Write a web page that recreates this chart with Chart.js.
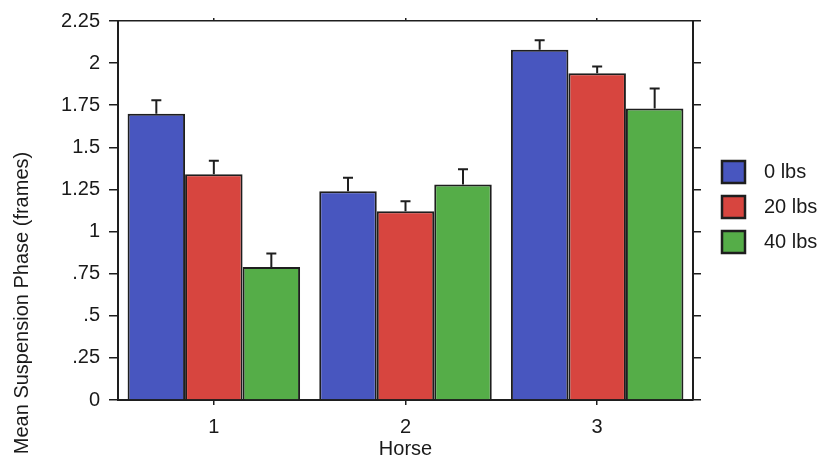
<!DOCTYPE html>
<html><head><meta charset="utf-8">
<script src="https://cdn.jsdelivr.net/npm/chart.js@4/dist/chart.umd.min.js"></script>
<style>html,body{margin:0;padding:0;background:#fff}#wrap{width:822px;height:461px}</style>
</head><body><div id="wrap"><canvas id="c" width="822" height="461"></canvas></div>
<script>
const categories = ['1', '2', '3'];
const seriesLabels = ['0 lbs', '20 lbs', '40 lbs'];
const values0 = [1.70, 1.24, 2.08];
const values20 = [1.34, 1.12, 1.94];
const values40 = [0.79, 1.28, 1.73];
const err0 = [0.08, 0.08, 0.055];
const err20 = [0.08, 0.06, 0.04];
const err40 = [0.08, 0.09, 0.12];
const yTickLabels = ['0', '.25', '.5', '.75', '1', '1.25', '1.5', '1.75', '2', '2.25'];
const xTitle = 'Horse';
const yTitle = 'Mean Suspension Phase (frames)';

const FONT = "'Liberation Sans', Arial, Helvetica, sans-serif";
const TXT = '#1a1a1a';
const LINE = '#1e1e1e';
const colors = ['#4856bf', '#d7453f', '#55ad48'];

const errorBars = {
  id: 'errorBars',
  afterDatasetsDraw(chart) {
    const ctx = chart.ctx, ys = chart.scales.y;
    chart.data.datasets.forEach((ds, di) => {
      const meta = chart.getDatasetMeta(di);
      meta.data.forEach((bar, i) => {
        const top = ys.getPixelForValue(ds.data[i]);
        const e = ys.getPixelForValue(ds.data[i] + ds.errors[i]);
        ctx.save();
        ctx.strokeStyle = LINE; ctx.lineWidth = 2;
        ctx.beginPath();
        ctx.moveTo(bar.x, top); ctx.lineTo(bar.x, e);
        ctx.moveTo(bar.x - 5, e); ctx.lineTo(bar.x + 5, e);
        ctx.stroke();
        ctx.restore();
      });
    });
  }
};

const extras = {
  id: 'extras',
  afterDraw(chart) {
    const ctx = chart.ctx;
    ctx.save();
    // y title
    ctx.translate(22, 303);
    ctx.rotate(-Math.PI / 2);
    ctx.font = '20px ' + FONT;
    ctx.fillStyle = TXT;
    ctx.textAlign = 'center';
    ctx.textBaseline = 'middle';
    ctx.fillText(yTitle, 0, 0);
    ctx.restore();
    // legend
    ctx.save();
    const centers = [172, 207, 242];
    chart.data.datasets.forEach((ds, i) => {
      const cy = centers[i];
      ctx.fillStyle = ds.backgroundColor;
      ctx.fillRect(722, cy - 11, 23, 22);
      ctx.strokeStyle = LINE; ctx.lineWidth = 2.5;
      ctx.strokeRect(722, cy - 11, 23, 22);
      ctx.fillStyle = TXT;
      ctx.font = '20px ' + FONT;
      ctx.textAlign = 'left'; ctx.textBaseline = 'middle';
      ctx.fillText(ds.label, 764, cy);
    });
    ctx.restore();
  }
};

const mk = (label, data, errors, color) => ({
  label, data, errors,
  backgroundColor: color,
  borderColor: LINE,
  borderWidth: 2,
  categoryPercentage: 0.9,
  barPercentage: 1.0,
  xAxisID: 'x', yAxisID: 'y'
});

new Chart(document.getElementById('c'), {
  type: 'bar',
  data: {
    labels: categories,
    datasets: [
      mk(seriesLabels[0], values0, err0, colors[0]),
      mk(seriesLabels[1], values20, err20, colors[1]),
      mk(seriesLabels[2], values40, err40, colors[2])
    ]
  },
  options: {
    responsive: false,
    animation: false,
    devicePixelRatio: 1,
    layout: { padding: { left: 0, right: 119, top: 0, bottom: 0 } },
    plugins: { legend: { display: false }, tooltip: { enabled: false } },
    scales: {
      x: {
        type: 'category', position: 'bottom', offset: true,
        grid: { offset: false, drawOnChartArea: false, drawTicks: true, tickLength: 5, color: LINE, lineWidth: 1.5 },
        border: { color: LINE, width: 2 },
        ticks: { padding: 10, color: TXT, font: { family: FONT, size: 20 } },
        title: { display: true, text: xTitle, color: TXT, font: { family: FONT, size: 20 }, padding: { top: 0, bottom: 0 } },
        afterFit: s => { s.height = 61; }
      },
      x2: {
        type: 'category', position: 'top', offset: true,
        grid: { offset: false, drawOnChartArea: false, drawTicks: true, tickLength: 3, color: LINE, lineWidth: 1.5 },
        border: { color: LINE, width: 1.5 },
        ticks: { display: false },
        afterFit: s => { s.height = 20; }
      },
      y: {
        position: 'left', min: 0, max: 2.25,
        grid: { drawOnChartArea: false, drawTicks: true, tickLength: 9, color: LINE, lineWidth: 1.5 },
        border: { color: LINE, width: 2 },
        ticks: { stepSize: 0.25, padding: 9, color: TXT, font: { family: FONT, size: 20 },
          callback: (v, i) => yTickLabels[i] },
        afterFit: s => { s.width = 118; }
      },
      y2: {
        position: 'right', min: 0, max: 2.25,
        grid: { drawOnChartArea: false, drawTicks: true, tickLength: 8, color: LINE, lineWidth: 1.5 },
        border: { color: LINE, width: 2 },
        ticks: { stepSize: 0.25, display: false },
        afterFit: s => { s.width = 10; }
      }
    }
  },
  plugins: [errorBars, extras]
});
</script>
</body></html>
